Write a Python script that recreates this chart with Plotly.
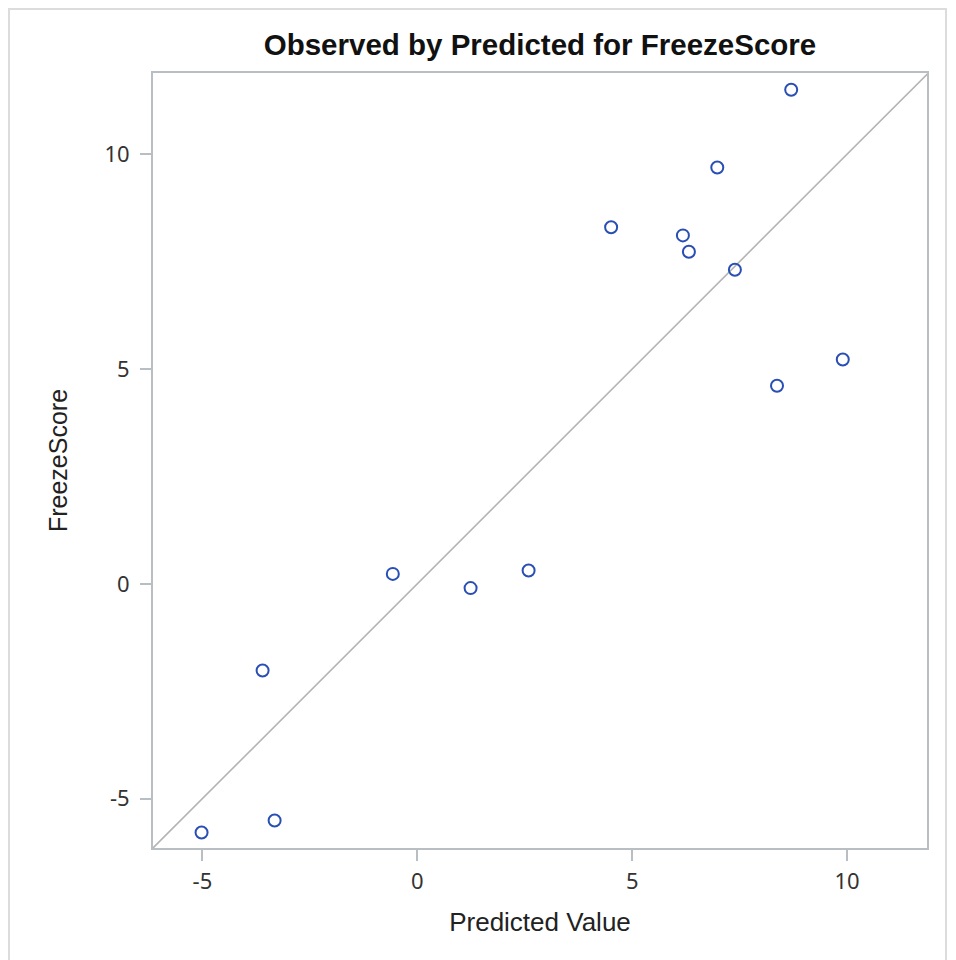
import plotly.graph_objects as go

predicted = [8.70, 6.98, 4.51, 6.18, 6.32, 7.39, 9.90, 8.37, -0.57, 1.24, 2.59, -3.60, -3.32, -5.02]
observed = [11.50, 9.69, 8.30, 8.11, 7.73, 7.31, 5.22, 4.61, 0.23, -0.10, 0.31, -2.02, -5.51, -5.79]
x_range = [-6.15, 11.86]
y_range = [-6.15, 11.89]
tick_vals = [-5, 0, 5, 10]
tick_text = ["-5", "0", "5", "10"]

fig = go.Figure()
lo = min(x_range[0], y_range[0]) - 1
hi = max(x_range[1], y_range[1]) + 1
fig.add_trace(go.Scatter(x=[lo, hi], y=[lo, hi], mode="lines",
                         line=dict(color="#b4b4b4", width=1.6),
                         hoverinfo="skip", showlegend=False))
fig.add_trace(go.Scatter(x=predicted, y=observed, mode="markers",
                         marker=dict(symbol="circle-open", size=12,
                                     color="#2a4fb4", line=dict(width=2, color="#2a4fb4")),
                         showlegend=False))

axis_common = dict(showgrid=False, zeroline=False, showline=True, mirror=True,
                   linecolor="#b8bec2", linewidth=2, ticks="outside", ticklen=11,
                   tickwidth=1.5, tickcolor="#b8bec2",
                   tickfont=dict(family="Noto Sans, Open Sans, sans-serif", size=22, color="#333333"),
                   tickvals=tick_vals, ticktext=tick_text)

fig.update_xaxes(range=x_range, ticklabelstandoff=2,
                 title=dict(text="Predicted Value", standoff=18,
                 font=dict(family="Liberation Sans, Arial, sans-serif", size=26, color="#222222")),
                 **axis_common)
fig.update_yaxes(range=y_range, ticklabelstandoff=6,
                 title=dict(text="FreezeScore", standoff=30,
                 font=dict(family="Liberation Sans, Arial, sans-serif", size=25, color="#222222")),
                 **axis_common)

fig.add_shape(type="rect", xref="paper", yref="paper",
              x0=(9 - 153) / 774, x1=(946 - 153) / 774,
              y0=-0.3, y1=(848 - 9) / 775,
              line=dict(color="#dcdcdc", width=2), layer="below")

fig.update_layout(
    width=956, height=960,
    margin=dict(l=145, r=37, t=65, b=120),
    plot_bgcolor="white", paper_bgcolor="white",
    title=dict(text="<b>Observed by Predicted for FreezeScore</b>",
               x=(145 + 919) / 2 / 956, xanchor="center", y=1 - 37 / 960, yanchor="middle",
               font=dict(family="Liberation Sans, Arial, sans-serif", size=29.5, color="#111111")),
)

fig.write_html("out.html")
